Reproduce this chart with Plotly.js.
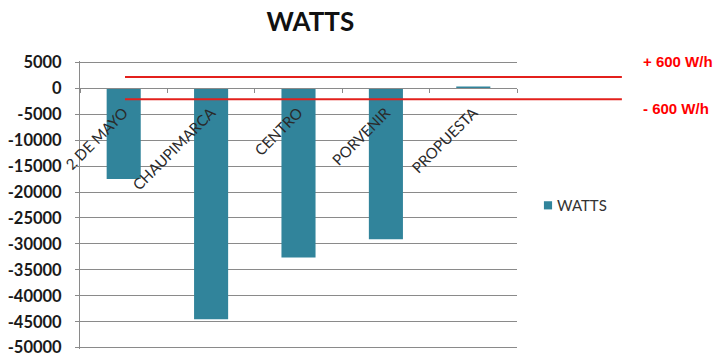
<!DOCTYPE html>
<html>
<head>
<meta charset="utf-8">
<script src="https://cdn.plot.ly/plotly-3.0.1.min.js"></script>
<style>
  html, body { margin: 0; padding: 0; background: #ffffff; }
  #chart { width: 715px; height: 356px; }
</style>
</head>
<body>
<div id="chart"></div>
<script>
// Power balance per sector (watts)
const categories = ['2 DE MAYO', 'CHAUPIMARCA', 'CENTRO', 'PORVENIR', 'PROPUESTA'];
const watts = [-17500, -44500, -32600, -29100, 350];
const seriesName = 'WATTS';

// Value axis ticks and labels
const yTicks = [5000, 0, -5000, -10000, -15000, -20000, -25000, -30000, -35000, -40000, -45000, -50000];
const yTickLabels = ['5000', '0', '-5000', '-10000', '-15000', '-20000', '-25000', '-30000', '-35000', '-40000', '-45000', '-50000'];
const yRange = [-50250, 5250];

// Tolerance band in W/h, drawn on its own overlay scale
const toleranceWh = [600, -600];
const whRange = [-14064, 1469];

const gridGrey = '#8a8a8a';
const teal = '#31849B';
const red = '#ff0000';
const baseFont = 'Lato, "Open Sans", sans-serif';

// Category axis sits on the zero line of the value axis
const zeroPos = (0 - yRange[0]) / (yRange[1] - yRange[0]);

const traces = [
  {
    type: 'bar',
    name: seriesName,
    x: categories,
    y: watts,
    marker: { color: teal },
    hoverinfo: 'x+y'
  },
  {
    type: 'scatter',
    mode: 'lines',
    x: [],
    y: [],
    yaxis: 'y2',
    showlegend: false,
    hoverinfo: 'skip'
  }
];

const shapes = toleranceWh.map(v => ({
  type: 'line',
  xref: 'paper', yref: 'y2',
  x0: 0.103, x1: 1.24,
  y0: v, y1: v,
  line: { color: '#e3201c', width: 2 }
}));

const labelY = [1.0, 0.834];
const annotations = toleranceWh.map((v, i) => ({
  xref: 'paper', yref: 'paper',
  x: 1.284, y: labelY[i],
  xanchor: 'left', yanchor: 'middle',
  showarrow: false,
  text: (v > 0 ? '+ ' : '- ') + Math.abs(v) + ' W/h',
  font: { family: '"Liberation Sans", Arial, sans-serif', size: 15, color: red, weight: 'bold' }
}));

const layout = {
  width: 715,
  height: 356,
  margin: { l: 80, r: 198, t: 61, b: 7 },
  paper_bgcolor: '#ffffff',
  plot_bgcolor: '#ffffff',
  font: { family: baseFont, color: '#222222' },
  title: {
    text: '<b>WATTS</b>',
    x: 0.434, xanchor: 'center',
    y: 0.938, yanchor: 'middle',
    font: { family: baseFont, size: 26, color: '#111111' }
  },
  bargap: 0.61,
  showlegend: true,
  legend: {
    x: 1.0, xanchor: 'left',
    y: 0.498, yanchor: 'middle',
    bgcolor: 'rgba(0,0,0,0)',
    font: { family: baseFont, size: 15, color: '#333333' }
  },
  xaxis: {
    type: 'category',
    range: [-0.5, categories.length - 0.5],
    anchor: 'free',
    position: zeroPos,
    showline: true,
    linecolor: gridGrey,
    linewidth: 1,
    showgrid: false,
    zeroline: false,
    ticks: 'outside',
    tickson: 'boundaries',
    ticklen: 4,
    tickcolor: gridGrey,
    tickangle: -45,
    ticklabelstandoff: 9,
    tickfont: { family: baseFont, size: 15, color: '#2a2a2a' },
    automargin: false,
    fixedrange: true
  },
  yaxis: {
    range: yRange,
    tickmode: 'array',
    tickvals: yTicks,
    ticktext: yTickLabels,
    showgrid: true,
    gridcolor: gridGrey,
    gridwidth: 1,
    zeroline: false,
    showline: true,
    linecolor: gridGrey,
    ticks: 'outside',
    ticklen: 4,
    tickcolor: gridGrey,
    ticklabelstandoff: 10,
    ticklabeloverflow: 'allow',
    tickfont: { family: baseFont, size: 16.5, color: '#1a1a1a', weight: 'bold' },
    automargin: false,
    fixedrange: true
  },
  yaxis2: {
    overlaying: 'y',
    range: whRange,
    visible: false,
    fixedrange: true
  },
  shapes: shapes,
  annotations: annotations
};

Plotly.newPlot('chart', traces, layout, { displayModeBar: false, staticPlot: true }).then(gd => {
  // Smaller legend swatch, set close to its label
  gd.querySelectorAll('.legend .legendpoints path').forEach(p => {
    p.setAttribute('transform', 'translate(31,0) scale(0.68)');
  });
});
</script>
</body>
</html>
